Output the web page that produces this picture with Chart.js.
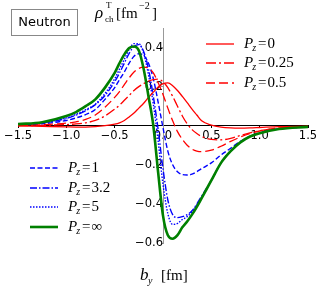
<!DOCTYPE html>
<html>
<head>
<meta charset="utf-8">
<script src="https://cdn.jsdelivr.net/npm/chart.js@4"></script>
<style>
  html, body { margin: 0; padding: 0; background: #fff; }
  #wrap { width: 322px; height: 289px; position: relative; }
</style>
</head>
<body>
<div id="wrap"><canvas id="densityChart"></canvas></div>
<script>
// b_y positions (fm) where each curve is sampled
const bValues = [-1.5, -1.25, -1.0, -0.9, -0.8, -0.7, -0.6, -0.5, -0.45, -0.4, -0.35, -0.3, -0.25, -0.2, -0.15, -0.1, -0.05,
  0.0, 0.05, 0.1, 0.15, 0.2, 0.25, 0.3, 0.35, 0.4, 0.5, 0.6, 0.7, 0.8, 0.9, 1.0, 1.2, 1.5];

const rhoPz0 = [0.0, -0.003, -0.006, -0.007, -0.007, -0.005, 0.0, 0.008, 0.015, 0.027, 0.045, 0.065, 0.09, 0.115, 0.145, 0.172, 0.198,
  0.215, 0.219, 0.205, 0.18, 0.15, 0.118, 0.085, 0.055, 0.025, 0.003, -0.007, -0.011, -0.012, -0.011, -0.009, -0.005, -0.002];
const rhoPz025 = [0.0, 0.002, 0.006, 0.009, 0.015, 0.027, 0.05, 0.085, 0.105, 0.13, 0.155, 0.18, 0.2, 0.215, 0.228, 0.236, 0.238,
  0.225, 0.195, 0.15, 0.1, 0.05, 0.01, -0.02, -0.04, -0.055, -0.07, -0.072, -0.065, -0.05, -0.037, -0.026, -0.012, -0.004];
const rhoPz05 = [0.002, 0.005, 0.013, 0.02, 0.032, 0.055, 0.095, 0.145, 0.175, 0.21, 0.245, 0.275, 0.293, 0.3, 0.295, 0.27, 0.22,
  0.16, 0.09, 0.025, -0.03, -0.07, -0.1, -0.12, -0.13, -0.133, -0.125, -0.105, -0.08, -0.058, -0.04, -0.027, -0.012, -0.004];
const rhoPz1 = [0.004, 0.01, 0.027, 0.04, 0.057, 0.083, 0.135, 0.195, 0.235, 0.275, 0.32, 0.355, 0.368, 0.36, 0.32, 0.24, 0.12,
  -0.01, -0.13, -0.2, -0.235, -0.25, -0.252, -0.248, -0.235, -0.22, -0.19, -0.15, -0.115, -0.08, -0.055, -0.037, -0.016, -0.006];
const rhoPz32 = [0.005, 0.014, 0.037, 0.054, 0.077, 0.108, 0.155, 0.225, 0.27, 0.32, 0.37, 0.405, 0.415, 0.38, 0.29, 0.15, -0.02,
  -0.22, -0.38, -0.455, -0.47, -0.465, -0.455, -0.435, -0.4, -0.36, -0.28, -0.19, -0.13, -0.085, -0.055, -0.037, -0.016, -0.006];
const rhoPz5 = [0.006, 0.015, 0.04, 0.058, 0.082, 0.11, 0.165, 0.24, 0.29, 0.34, 0.39, 0.42, 0.42, 0.37, 0.26, 0.11, -0.08,
  -0.3, -0.45, -0.505, -0.5, -0.48, -0.465, -0.44, -0.405, -0.365, -0.28, -0.19, -0.13, -0.085, -0.055, -0.037, -0.016, -0.006];
const rhoPzInf = [0.008, 0.018, 0.05, 0.07, 0.1, 0.135, 0.195, 0.27, 0.32, 0.365, 0.397, 0.405, 0.385, 0.29, 0.15, 0.0, -0.24,
  -0.46, -0.56, -0.578, -0.56, -0.52, -0.49, -0.455, -0.415, -0.37, -0.28, -0.19, -0.13, -0.085, -0.055, -0.038, -0.017, -0.006];

const seriesLabels = ['0', '0.25', '0.5', '1', '3.2', '5', '\u221e'];
const xTickValues = [-1.5, -1.0, -0.5, 0.0, 0.5, 1.0, 1.5];
const yTickValues = [-0.6, -0.4, -0.2, 0.2, 0.4];

function toPoints(ys) {
  return bValues.map(function (b, i) { return { x: b, y: ys[i] }; });
}

function fmtTick(v) {
  return Number(v).toFixed(1).replace('-', '\u2212');
}

const styles = [
  { color: '#ff0000', width: 1.3, dash: [] },
  { color: '#ff0000', width: 1.3, dash: [10, 3, 2, 3] },
  { color: '#ff0000', width: 1.3, dash: [9, 4] },
  { color: '#0000ff', width: 1.4, dash: [5, 2.5] },
  { color: '#0000ff', width: 1.4, dash: [7, 2, 1.5, 2] },
  { color: '#0000ff', width: 1.4, dash: [1.5, 1.5] },
  { color: '#008000', width: 2.6, dash: [] }
];
const seriesData = [rhoPz0, rhoPz025, rhoPz05, rhoPz1, rhoPz32, rhoPz5, rhoPzInf];

const datasets = seriesData.map(function (ys, i) {
  return {
    label: 'P_z=' + seriesLabels[i],
    data: toPoints(ys),
    borderColor: styles[i].color,
    borderWidth: styles[i].width,
    borderDash: styles[i].dash,
    pointRadius: 0,
    fill: false,
    cubicInterpolationMode: 'monotone',
    order: i === 6 ? -1 : 0
  };
});

// P_z = value, drawn in a math-like style
function drawPz(ctx, x, y, value) {
  ctx.textBaseline = 'middle';
  ctx.textAlign = 'left';
  ctx.fillStyle = '#000';
  ctx.font = 'italic 15px "Liberation Serif"';
  ctx.fillText('P', x, y);
  let w = ctx.measureText('P').width;
  ctx.font = 'italic 10px "Liberation Serif"';
  ctx.fillText('z', x + w - 1, y + 4);
  w += ctx.measureText('z').width + 1;
  ctx.font = '15px "Liberation Serif"';
  ctx.fillText('=', x + w, y);
  w += ctx.measureText('=').width + 1;
  ctx.fillText(value, x + w, y);
}

const annotations = {
  id: 'annotations',
  afterDraw: function (chart) {
    const ctx = chart.ctx;
    ctx.save();

    // Neutron box
    ctx.strokeStyle = '#888';
    ctx.lineWidth = 1;
    ctx.strokeRect(11.5, 9.5, 66, 26);
    ctx.fillStyle = '#000';
    ctx.font = '13px "DejaVu Sans"';
    ctx.textAlign = 'center';
    ctx.textBaseline = 'middle';
    ctx.fillText('Neutron', 44.5, 23);

    // y-axis title
    ctx.textAlign = 'left';
    ctx.textBaseline = 'alphabetic';
    ctx.font = 'italic 17px "Liberation Serif"';
    ctx.fillText('\u03c1', 95, 18);
    ctx.font = '9px "Liberation Serif"';
    ctx.fillText('T', 106, 8);
    ctx.fillText('ch', 105, 22);
    ctx.font = '15px "Liberation Serif"';
    ctx.fillText('[fm', 116, 18);
    ctx.font = '10px "Liberation Serif"';
    ctx.fillText('\u22122', 139, 9);
    ctx.font = '15px "Liberation Serif"';
    ctx.fillText(']', 152, 18);

    // x-axis title
    ctx.font = 'italic 17px "Liberation Serif"';
    ctx.fillText('b', 140, 280);
    ctx.font = 'italic 10px "Liberation Serif"';
    ctx.fillText('y', 148, 284);
    ctx.font = '15px "Liberation Serif"';
    ctx.fillText('[fm]', 161, 280);

    // legends
    const rows = [
      { i: 0, x: 206, y: 44 }, { i: 1, x: 206, y: 63 }, { i: 2, x: 206, y: 83 },
      { i: 3, x: 30, y: 168 }, { i: 4, x: 30, y: 188 }, { i: 5, x: 30, y: 207 }, { i: 6, x: 30, y: 227 }
    ];
    rows.forEach(function (r) {
      const s = styles[r.i];
      ctx.beginPath();
      ctx.strokeStyle = s.color;
      ctx.lineWidth = s.width;
      ctx.setLineDash(s.dash);
      ctx.moveTo(r.x, r.y);
      ctx.lineTo(r.x + 28, r.y);
      ctx.stroke();
      ctx.setLineDash([]);
      drawPz(ctx, r.x + 38, r.y, seriesLabels[r.i]);
    });
    ctx.restore();
  }
};

new Chart(document.getElementById('densityChart').getContext('2d'), {
  type: 'line',
  data: { datasets: datasets },
  options: {
    responsive: true,
    maintainAspectRatio: false,
    animation: false,
    layout: { padding: { left: 18, right: 14, top: 28, bottom: 46 } },
    plugins: { legend: { display: false }, tooltip: { enabled: false } },
    scales: {
      x: {
        type: 'linear',
        min: -1.5,
        max: 1.5,
        position: { y: 0 },
        grid: { display: true, drawOnChartArea: false, tickLength: 2, color: '#000' },
        border: { display: true, color: '#000', width: 1 },
        afterBuildTicks: function (s) { s.ticks = xTickValues.map(function (v) { return { value: v }; }); },
        ticks: {
          autoSkip: false, maxRotation: 0, padding: 1, color: '#000',
          font: { family: 'DejaVu Sans', size: 11.5 },
          callback: fmtTick
        }
      },
      y: {
        type: 'linear',
        min: -0.6,
        max: 0.5,
        position: { x: 0 },
        grid: { display: true, drawOnChartArea: false, tickLength: 2, color: '#999' },
        border: { display: true, color: '#999', width: 1 },
        afterBuildTicks: function (s) { s.ticks = yTickValues.map(function (v) { return { value: v }; }); },
        ticks: {
          autoSkip: false, padding: 1, color: '#000',
          font: { family: 'DejaVu Sans', size: 11.5 },
          callback: fmtTick
        }
      }
    }
  },
  plugins: [annotations]
});
</script>
</body>
</html>
